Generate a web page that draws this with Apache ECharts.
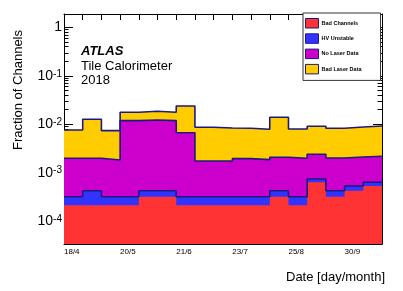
<!DOCTYPE html>
<html>
<head>
<meta charset="utf-8">
<script src="https://cdn.jsdelivr.net/npm/echarts@6/dist/echarts.min.js"></script>
<style>
html,body{margin:0;padding:0;background:#fff;}
#chart{width:403px;height:291px;}
</style>
</head>
<body>
<div id="chart"></div>
<script>
// ---- data ----
const binCount = 17;
const dateLabels = ['18/4', '20/5', '21/6', '23/7', '25/8', '30/9'];
const dateLabelBins = [0, 3, 6, 9, 12, 15];
const seriesNames = ['Bad Channels', 'HV Unstable', 'No Laser Data', 'Bad Laser Data'];
const badChannels = [2.12e-4, 2.12e-4, 2.12e-4, 2.12e-4, 3.18e-4, 3.18e-4, 2.12e-4, 2.12e-4, 2.12e-4,
                     2.12e-4, 2.12e-4, 3.18e-4, 2.12e-4, 6.36e-4, 3.18e-4, 4.24e-4, 5.30e-4];
const hvUnstable  = [1.06e-4, 2.12e-4, 1.06e-4, 1.06e-4, 1.06e-4, 1.06e-4, 1.06e-4, 1.06e-4, 1.06e-4,
                     1.06e-4, 1.06e-4, 1.06e-4, 1.06e-4, 1.06e-4, 1.06e-4, 1.06e-4, 1.06e-4];
const noLaserData = [1.672e-3, 1.566e-3, 1.512e-3, 1.158e-2, 1.188e-2, 1.148e-2, 6.38e-3, 1.422e-3, 1.422e-3,
                     1.632e-3, 1.542e-3, 1.656e-3, 1.672e-3, 1.658e-3, 1.586e-3, 1.58e-3, 1.544e-3];
const badLaserData = [5.61e-3, 1.071e-2, 5.57e-3, 5.8e-3, 6.3e-3, 5.8e-3, 1.72e-2, 6.93e-3, 6.65e-3,
                      6.32e-3, 6.02e-3, 1.192e-2, 6.01e-3, 6.7e-3, 6.26e-3, 6.69e-3, 7.02e-3];
const yRange = [3.36e-5, 1.9];
const majorTickValues = [1e-4, 1e-3, 1e-2, 1e-1, 1];
const minorTickMultipliers = [2, 3, 4, 5, 6, 7, 8, 9];
const minorTickDecades = [1e-5, 1e-4, 1e-3, 1e-2, 1e-1, 1];

// ---- styles ----
const FONT = '"Liberation Sans", Arial, Helvetica, sans-serif';
const fills = ['#ff3333', '#3333ff', '#cc00cc', '#ffcc00'];
const outline = '#1a1a80';

// ---- build ----
const components = [badChannels, hvUnstable, noLaserData, badLaserData];
const cumulative = [];
let running = new Array(binCount).fill(0);
components.forEach(arr => {
  running = running.map((s, i) => s + arr[i]);
  cumulative.push(running.slice());
});
function stepData(vals) {
  const d = vals.map((v, i) => [i, Math.log10(v)]);
  d.push([vals.length, Math.log10(vals[vals.length - 1])]);
  return d;
}
const yMin = Math.log10(yRange[0]), yMax = Math.log10(yRange[1]);
const majorLog = majorTickValues.map(v => Math.round(Math.log10(v)));
const minorLog = [];
minorTickDecades.forEach(d => minorTickMultipliers.forEach(m => {
  const l = Math.log10(m * d);
  if (l > yMin && l < yMax) minorLog.push(l);
}));

const series = [];
for (let k = components.length - 1; k >= 0; k--) {
  series.push({
    name: seriesNames[k],
    type: 'line',
    step: 'end',
    xAxisIndex: 0,
    yAxisIndex: 0,
    data: stepData(cumulative[k]),
    showSymbol: false,
    symbol: 'none',
    color: fills[k],
    itemStyle: { color: fills[k] },
    lineStyle: k === 0 ? { width: 0, color: fills[k] } : { width: 1.6, color: outline },
    areaStyle: { color: fills[k], opacity: 1, origin: 'start' },
    silent: true,
    animation: false
  });
}

function yAxisDef(pos, values, len, showLine, showLabel) {
  return {
    type: 'value', position: pos, min: yMin, max: yMax,
    axisLine: { show: showLine, onZero: false, lineStyle: { color: '#000', width: 1 } },
    axisTick: { show: true, inside: true, length: len, customValues: values, lineStyle: { color: '#000', width: 1 } },
    axisLabel: showLabel ? {
      show: true, customValues: values, margin: 2, color: '#000',
      formatter: v => Math.round(v) === 0 ? '{b|1}' : '{b|10}{s|' + Math.round(v) + '}',
      rich: {
        b: { fontSize: 14, fontFamily: FONT, color: '#000', lineHeight: 14, verticalAlign: 'bottom' },
        s: { fontSize: 10, fontFamily: FONT, color: '#000', lineHeight: 10, verticalAlign: 'top', padding: [0, 0, 8, 0] }
      }
    } : { show: false },
    splitLine: { show: false }
  };
}

function xAxisDef(pos, showLabel) {
  return {
    type: 'value', position: pos, min: 0, max: binCount, interval: 1,
    axisLine: { show: true, onZero: false, lineStyle: { color: '#000', width: 1 } },
    axisTick: { show: true, inside: true, length: 6, lineStyle: { color: '#000', width: 1 } },
    axisLabel: showLabel ? {
      show: true, margin: 4, align: 'left', fontSize: 8, fontFamily: FONT, color: '#000',
      showMinLabel: true, showMaxLabel: true,
      formatter: v => { const i = dateLabelBins.indexOf(Math.round(v)); return i >= 0 ? dateLabels[i] : ''; }
    } : { show: false },
    splitLine: { show: false }
  };
}

const chart = echarts.init(document.getElementById('chart'), null, { renderer: 'canvas' });
chart.setOption({
  animation: false,
  backgroundColor: '#fff',
  grid: { left: 64, right: 21, top: 14, bottom: 47, containLabel: false },
  xAxis: [xAxisDef('bottom', true), xAxisDef('top', false)],
  yAxis: [
    yAxisDef('left', majorLog, 9, true, true),
    yAxisDef('left', minorLog, 4.5, false, false),
    yAxisDef('right', majorLog, 9, true, false),
    yAxisDef('right', minorLog, 4.5, false, false)
  ],
  legend: {
    orient: 'vertical', left: 303, top: 13,
    padding: [5, 19, 6, 2],
    itemWidth: 13, itemHeight: 9.5, itemGap: 4.8,
    icon: 'rect',
    data: seriesNames.map((n, k) => ({ name: n, icon: 'rect', itemStyle: { color: fills[k], borderColor: outline, borderWidth: 1 } })),
    backgroundColor: '#fff', borderColor: '#333', borderWidth: 1,
    textStyle: { fontSize: 5.5, fontWeight: 'bold', fontFamily: FONT, color: '#000', padding: [0, 0, 0, -2] },
    selectedMode: false
  },
  graphic: [
    { type: 'text', left: 81, top: 45, style: { text: 'ATLAS', font: 'italic bold 13px ' + FONT, fill: '#000' } },
    { type: 'text', left: 81, top: 60, style: { text: 'Tile Calorimeter', font: '13px ' + FONT, fill: '#000' } },
    { type: 'text', left: 81, top: 74, style: { text: '2018', font: '13px ' + FONT, fill: '#000' } },
    { type: 'text', x: 18, y: 30, rotation: Math.PI / 2,
      style: { text: 'Fraction of Channels', font: '13px ' + FONT, fill: '#000', align: 'right', verticalAlign: 'middle' } },
    { type: 'text', x: 385, y: 277,
      style: { text: 'Date [day/month]', font: '13px ' + FONT, fill: '#000', align: 'right', verticalAlign: 'middle' } }
  ],
  series: series
});
</script>
</body>
</html>
